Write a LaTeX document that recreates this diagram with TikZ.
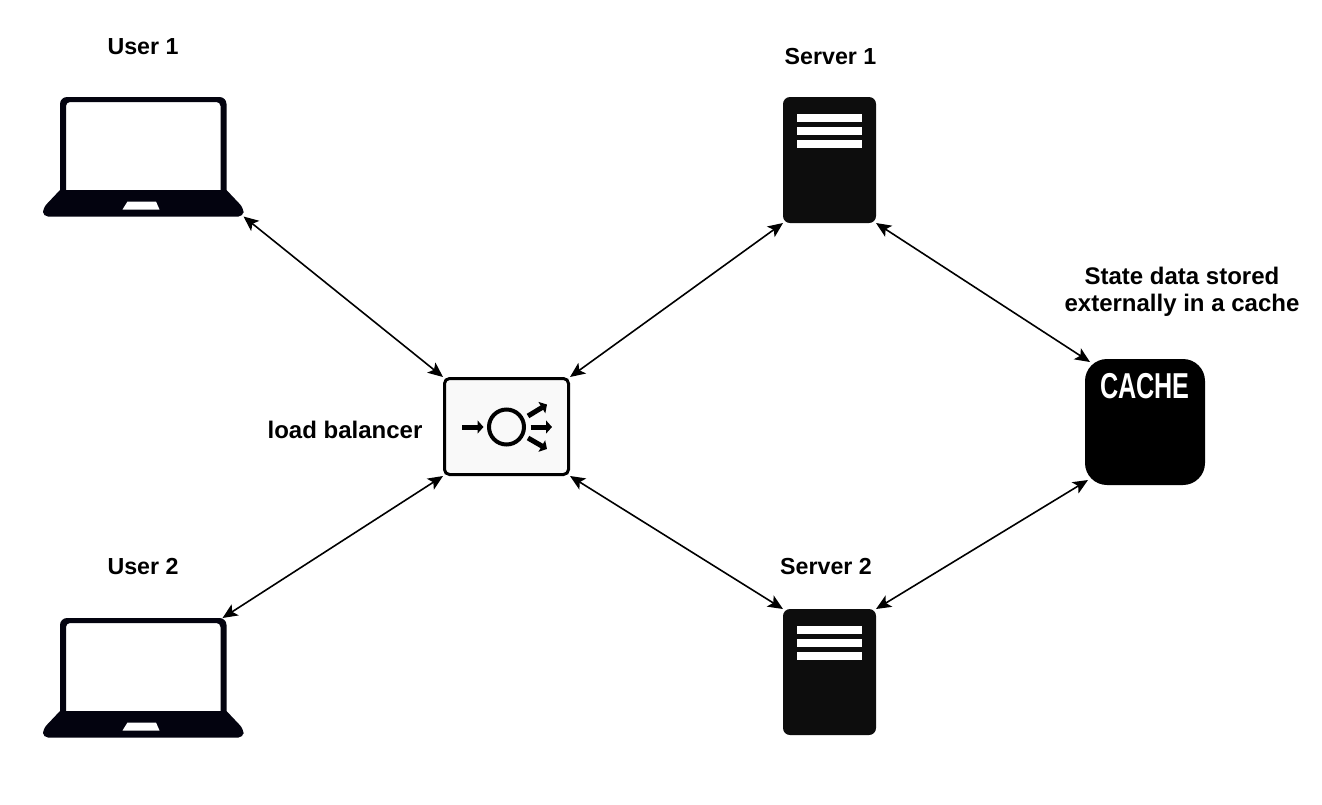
\documentclass[tikz,border=0pt]{standalone}
\usepackage{fontspec}
\setmainfont{Liberation Sans}
\usetikzlibrary{arrows.meta,calc}
\definecolor{lapcol}{HTML}{03030F}
\definecolor{srvcol}{HTML}{0D0D0D}
\definecolor{lbfill}{HTML}{F9F9F9}
\tikzset{
  lbl/.style={font=\fontsize{23.2}{28}\selectfont\bfseries,text=black,inner sep=0pt,align=center},
  lblw/.style={font=\fontsize{24}{28}\selectfont\bfseries,text=black,inner sep=0pt,align=center},
  link/.style={line width=1.6pt,black,{Stealth[length=15pt,width=13pt,inset=3.5pt]}-{Stealth[length=15pt,width=13pt,inset=3.5pt]},shorten <=0pt,shorten >=0pt},
  frame/.style={rectangle,inner sep=0pt,outer sep=0pt,anchor=north west},
  srvbox/.style={frame,fill=srvcol,rounded corners=7pt,minimum width=93pt,minimum height=126pt},
  srvbar/.style={fill=white,draw=none},
  lapshape/.style={fill=lapcol,draw=none},
  iconarrow/.style={line width=5pt,black,-{Triangle[length=6pt,width=13pt]}}
}
\newcommand{\laptopshape}[2]{%
  \begin{scope}[shift={(#1,#2)}]
    \fill[lapshape,even odd rule] [rounded corners=7pt] (60,191) [sharp corners] -- (60,191) [rounded corners=7pt] -- (60,97) -- (226.5,97) [sharp corners] -- (226.5,191) -- cycle
      (66,191) [rounded corners=4pt] -- (66,102) -- (220.5,102) [sharp corners] -- (220.5,191) -- cycle;
    \fill[lapshape] (60,190) [sharp corners] -- (226.5,190) [rounded corners=5pt] -- (243.5,208) -- (243.5,216.5) -- (43,216.5) -- (43,208) [sharp corners] -- cycle;
    \fill[white] (127.5,201.5) -- (156,201.5) -- (159.5,209.5) -- (122.5,209.5) -- cycle;
  \end{scope}}
\begin{document}
\begin{tikzpicture}[x=1pt,y=-1pt]
\useasboundingbox (0,0) rectangle (1322,804);
\fill[white] (0,0) rectangle (1322,804);

% laptops
\laptopshape{0}{0}
\laptopshape{0}{521}
\node[frame,minimum width=200.5pt,minimum height=119.5pt] (user1) at (43,97) {};
\node[frame,minimum width=200.5pt,minimum height=119.5pt] (user2) at (43,618) {};

% servers
\node[srvbox] (srv1) at (783,97) {};
\node[srvbox] (srv2) at (783,609) {};
\foreach \dy in {0,512}{
  \fill[srvbar] (797,114+\dy) rectangle (862,122+\dy);
  \fill[srvbar] (797,127+\dy) rectangle (862,135+\dy);
  \fill[srvbar] (797,140+\dy) rectangle (862,148+\dy);
}

% cache
\node[frame,fill=black,rounded corners=22pt,minimum width=120pt,minimum height=126pt] (cache) at (1085,359) {};
\node[inner sep=0pt,text=white,xscale=.7,font=\fontsize{36}{36}\selectfont\bfseries] (cachetxt) at (1145,386) {CACHE};

% load balancer
\node[frame,fill=lbfill,draw=black,line width=3pt,rounded corners=5pt,minimum width=124pt,minimum height=96pt,outer sep=1.5pt] (lb) at (443,377) {};
\node[circle,draw=black,line width=4pt,minimum size=35pt,inner sep=0pt] (hub) at (506.5,427) {};
\coordinate (inA) at (462,427);
\coordinate (inB) at (483.5,427);
\coordinate (outAa) at (528,416);
\coordinate (outAb) at (547,404.5);
\coordinate (outBa) at (530.5,427);
\coordinate (outBb) at (552,427);
\coordinate (outCa) at (528,438);
\coordinate (outCb) at (547,449);
\draw[iconarrow] (inA) -- (inB);
\draw[iconarrow] (outAa) -- (outAb);
\draw[iconarrow] (outBa) -- (outBb);
\draw[iconarrow] (outCa) -- (outCb);

% labels
\node[lbl] (t1) at (143,47) {User 1};
\node[lbl] (t2) at (143,567) {User 2};
\node[lbl] (t3) at (830.5,57) {Server 1};
\node[lbl] (t4) at (826,567) {Server 2};
\node[lblw] (t5) at (345,430) {load balancer};
\node[lblw] (t6) at (1182,276) {State data stored};
\node[lblw] (t7) at (1182,305) {externally in a cache};

% connectors
\coordinate (u2end) at ($(user2.north east)+(-21,0)$);
\coordinate (c1) at ($(cache.north west)+(5,3)$);
\coordinate (c2) at ($(cache.south west)+(3,-5)$);
\draw[link] (user1.south east) -- (lb.north west);
\draw[link] (u2end) -- (lb.south west);
\draw[link] (lb.north east) -- (srv1.south west);
\draw[link] (lb.south east) -- (srv2.north west);
\draw[link] (srv1.south east) -- (c1);
\draw[link] (srv2.north east) -- (c2);
\end{tikzpicture}
\end{document}
